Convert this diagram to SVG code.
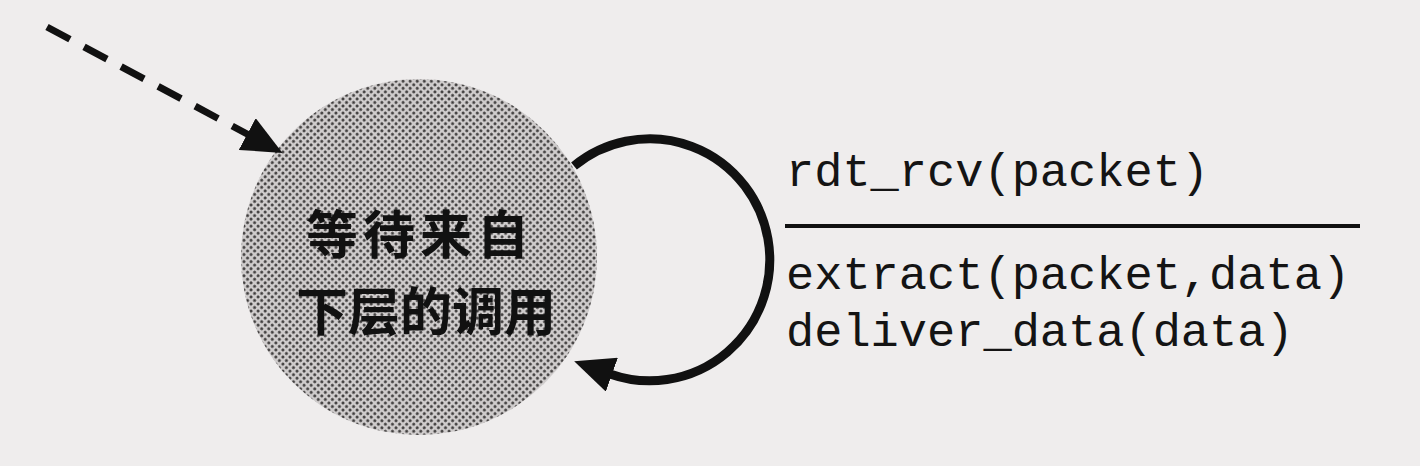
<svg xmlns="http://www.w3.org/2000/svg" width="1420" height="466" viewBox="0 0 1420 466">
  <style>
    .mono { font-family: "Liberation Mono", "DejaVu Sans Mono", monospace; font-size: 47px; fill: #141414; }
    .cjk { font-family: "Noto Sans CJK SC", "Noto Sans", sans-serif; font-size: 52px; font-weight: bold; fill: #111; }
    .conn { fill: none; stroke: #111; }
  </style>
  <defs>
    <pattern id="dots" width="5" height="5" patternUnits="userSpaceOnUse" patternTransform="rotate(45)">
      <rect width="5" height="5" fill="#cfcccc"/>
      <circle cx="2.5" cy="2.5" r="1.45" fill="#3a3838"/>
    </pattern>
    <marker id="arrow" viewBox="0 0 40 36" refX="2" refY="18" markerWidth="40" markerHeight="36" markerUnits="userSpaceOnUse" orient="auto">
      <path d="M0,0 L40,18 L0,36 z" fill="#111"/>
    </marker>
  </defs>
  <rect width="1420" height="466" fill="#efeded"/>

  <g id="state-wait">
    <circle cx="419" cy="257" r="178" fill="url(#dots)"/>
    <text class="cjk" x="420" y="254" text-anchor="middle" letter-spacing="5">等待来自</text>
    <text class="cjk" x="426" y="331" text-anchor="middle">下层的调用</text>
  </g>

  <g id="connectors">
    <line class="conn" x1="47" y1="27" x2="249" y2="135" stroke-width="7" stroke-dasharray="26 16" marker-end="url(#arrow)"/>
    <path class="conn" d="M 574 166 A 120 121 0 1 1 610 374" stroke-width="9" marker-end="url(#arrow)"/>
  </g>

  <g id="label-transition">
    <text class="mono" x="786" y="186">rdt_rcv(packet)</text>
    <line x1="785" y1="226" x2="1360" y2="226" stroke="#111" stroke-width="4"/>
    <text class="mono" x="786" y="289">extract(packet,data)</text>
    <text class="mono" x="786" y="346">deliver_data(data)</text>
  </g>
</svg>
